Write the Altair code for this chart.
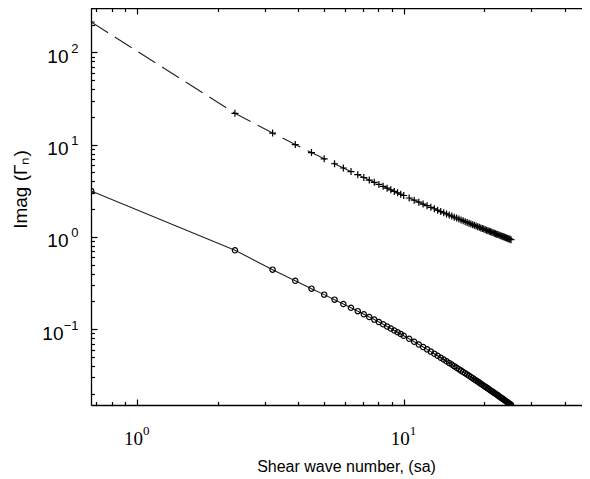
import altair as alt
import pandas as pd

x_vals = [0.671, 2.321, 3.212, 3.906, 4.493, 5.013, 5.483, 5.916, 6.319, 6.698,
          7.057, 7.398, 7.725, 8.038, 8.339, 8.630, 8.911, 9.184, 9.449, 9.706,
          9.957, 10.441, 10.904, 11.347, 11.774, 12.186, 12.585, 12.971, 13.346, 13.711,
          14.066, 14.413, 14.751, 15.082, 15.405, 15.723, 16.033, 16.338, 16.638, 16.932,
          17.221, 17.505, 17.785, 18.060, 18.331, 18.598, 18.862, 19.122, 19.378, 19.631,
          19.881, 20.128, 20.371, 20.612, 20.850, 21.086, 21.318, 21.549, 21.776, 22.002,
          22.225, 22.446, 22.665, 22.881, 23.096, 23.309, 23.520, 23.728, 23.935, 24.141,
          24.344, 24.546, 24.747, 24.945, 25.142]
upper_vals = [213, 21.83, 13.35, 10.02, 8.20, 7.02, 6.20, 5.58, 5.10, 4.72,
              4.40, 4.13, 3.90, 3.70, 3.53, 3.37, 3.24, 3.11, 3.00, 2.90,
              2.81, 2.64, 2.50, 2.38, 2.27, 2.18, 2.09, 2.02, 1.95, 1.88,
              1.826, 1.774, 1.725, 1.680, 1.637, 1.598, 1.561, 1.527, 1.494, 1.464,
              1.435, 1.408, 1.382, 1.358, 1.335, 1.312, 1.291, 1.271, 1.251, 1.232,
              1.215, 1.198, 1.182, 1.166, 1.151, 1.136, 1.122, 1.109, 1.095, 1.083,
              1.071, 1.059, 1.047, 1.036, 1.026, 1.015, 1.005, 0.995, 0.986, 0.976,
              0.967, 0.958, 0.950, 0.942, 0.933]
lower_vals = [3.15, 0.718, 0.442, 0.335, 0.275, 0.237, 0.209, 0.1875, 0.1706, 0.157,
              0.1455, 0.1356, 0.1271, 0.1195, 0.1130, 0.1071, 0.1018, 0.0970, 0.0927, 0.0887,
              0.0851, 0.0787, 0.0732, 0.0684, 0.0642, 0.0605, 0.0572, 0.0543, 0.0516, 0.0491,
              0.0469, 0.0449, 0.0431, 0.0414, 0.0398, 0.0383, 0.0369, 0.0356, 0.0344, 0.0333,
              0.0323, 0.0313, 0.0304, 0.0295, 0.0286, 0.0278, 0.0271, 0.0264, 0.0257, 0.0250,
              0.0244, 0.0238, 0.0233, 0.0228, 0.0222, 0.0217, 0.0213, 0.0208, 0.0204, 0.0200,
              0.0196, 0.0192, 0.0188, 0.0184, 0.0181, 0.0178, 0.0174, 0.0171, 0.0168, 0.0165,
              0.0162, 0.0160, 0.0157, 0.0154, 0.0152]

x_domain = [0.67, 46.4]
y_domain = [0.0151, 302]
x_tick_values = [0.7, 0.8, 0.9, 1, 2, 3, 4, 5, 6, 7, 8, 9, 10, 20, 30, 40]
y_tick_values = [0.02, 0.03, 0.04, 0.05, 0.06, 0.07, 0.08, 0.09,
                 0.1, 0.2, 0.3, 0.4, 0.5, 0.6, 0.7, 0.8, 0.9,
                 1, 2, 3, 4, 5, 6, 7, 8, 9,
                 10, 20, 30, 40, 50, 60, 70, 80, 90,
                 100, 200, 300]
x_label_values = [1, 10]
y_label_values = [0.1, 1, 10, 100]

W, H = 491, 397
df_up = pd.DataFrame({"x": x_vals, "y": upper_vals})
df_lo = pd.DataFrame({"x": x_vals, "y": lower_vals})
xs = alt.Scale(type="log", domain=x_domain, nice=False, zero=False)
ys = alt.Scale(type="log", domain=y_domain, nice=False, zero=False)

major_test = "abs(log(datum.value)/LN10 - round(log(datum.value)/LN10)) < 0.001"
tick_size = {"condition": {"test": major_test, "value": 6}, "value": 3.5}
exp_expr = "datum.value < 0.5 ? '\u22121' : datum.value < 5 ? '0' : datum.value < 50 ? '1' : '2'"

x_base_axis = alt.Axis(
    orient="bottom", values=x_label_values, ticks=False, tickSize=0, grid=False,
    labelExpr="'10'", labelFont="Liberation Serif", labelFontSize=19, labelColor="black",
    labelPadding=24, labelBaseline="top", labelOverlap=False, labelAlign="right", labelOffset=5,
    domain=True, domainColor="black", domainWidth=1.3,
    title="Shear wave number, (sa)", titleFont="Liberation Sans",
    titleFontSize=16, titleFontWeight="normal", titleColor="black",
    titleX=255, titleY=66, titleBaseline="alphabetic", titleAlign="center",
)
y_base_axis = alt.Axis(
    orient="left", values=y_label_values, ticks=False, tickSize=0, grid=False,
    labelExpr="'10'", labelFont="Liberation Sans", labelFontSize=19, labelColor="black",
    labelPadding={"condition": {"test": "datum.value < 0.5", "value": 28}, "value": 23},
    labelOverlap=False, labelBaseline="middle", labelOffset=4,
    domain=True, domainColor="black", domainWidth=1.3,
    title="Imag (\u0393\u2099)", titleFont="Liberation Sans", titleFontSize=19,
    titleFontWeight="normal", titleColor="black",
    titleX=-71, titleY=181, titleAlign="center", titleBaseline="middle", titleAngle=270,
)
x_exp_axis = alt.Axis(
    orient="bottom", values=x_label_values, ticks=False, tickSize=0, grid=False,
    labelExpr="datum.value < 5 ? '0' : '1'", labelFont="Liberation Serif", labelFontSize=13,
    labelColor="black", labelPadding=19, labelBaseline="top", labelAlign="left",
    labelOffset=5, labelOverlap=False, domain=False, title=None,
)
y_exp_axis = alt.Axis(
    orient="left", values=y_label_values, ticks=False, tickSize=0, grid=False,
    labelExpr=exp_expr, labelFont="Liberation Sans", labelFontSize=13, labelColor="black",
    labelPadding=13, labelAlign="right", labelBaseline="middle", labelOffset=-4,
    labelOverlap=False, domain=False, title=None,
)
x_tick_axis_top = alt.Axis(
    orient="bottom", offset=-H, values=x_tick_values, labels=False, grid=False,
    domain=True, domainColor="black", domainWidth=1.3,
    ticks=True, tickColor="black", tickWidth=1.2, tickSize=tick_size, title=None,
)
y_tick_axis_left = alt.Axis(
    orient="right", offset=-W, values=y_tick_values, labels=False, grid=False,
    domain=False, ticks=True, tickColor="black", tickWidth=1.2, tickSize=tick_size, title=None,
)
x_tick_axis_bottom = alt.Axis(
    orient="top", offset=-H, values=x_tick_values, labels=False, grid=False,
    domain=False, ticks=True, tickColor="black", tickWidth=1.2, tickSize=tick_size, title=None,
)

up_line = alt.Chart(df_up).mark_line(
    color="#222222", strokeWidth=1.1, strokeDash=[20, 8], clip=True
).encode(
    x=alt.X("x:Q", scale=xs, axis=x_base_axis),
    y=alt.Y("y:Q", scale=ys, axis=y_base_axis),
)
up_pts = alt.Chart(df_up).mark_point(
    shape="M-1,0L1,0M0,-1L0,1", filled=False, color="black", strokeWidth=1.2,
    size=49, opacity=1, clip=True
).encode(
    x=alt.X("x:Q", scale=xs, axis=x_exp_axis),
    y=alt.Y("y:Q", scale=ys, axis=y_exp_axis),
)
lo_line = alt.Chart(df_lo).mark_line(
    color="#222222", strokeWidth=1.1, clip=True
).encode(
    x=alt.X("x:Q", scale=xs, axis=x_tick_axis_top),
    y=alt.Y("y:Q", scale=ys, axis=y_tick_axis_left),
)
lo_pts = alt.Chart(df_lo).mark_point(
    shape="circle", filled=False, color="black", strokeWidth=1.2,
    size=28, opacity=1, clip=True
).encode(
    x=alt.X("x:Q", scale=xs, axis=x_tick_axis_bottom),
    y=alt.Y("y:Q", scale=ys, axis=None),
)

chart = alt.layer(up_line, up_pts, lo_line, lo_pts).resolve_axis(
    x="independent", y="independent"
).properties(
    width=W, height=H,
    autosize=alt.AutoSizeParams(type="none"),
    padding={"left": 83, "top": 0, "right": 0, "bottom": 71},
).configure_view(stroke=None).configure(background="white")

chart.save("out.html", embed_options={"renderer": "svg", "actions": False})
